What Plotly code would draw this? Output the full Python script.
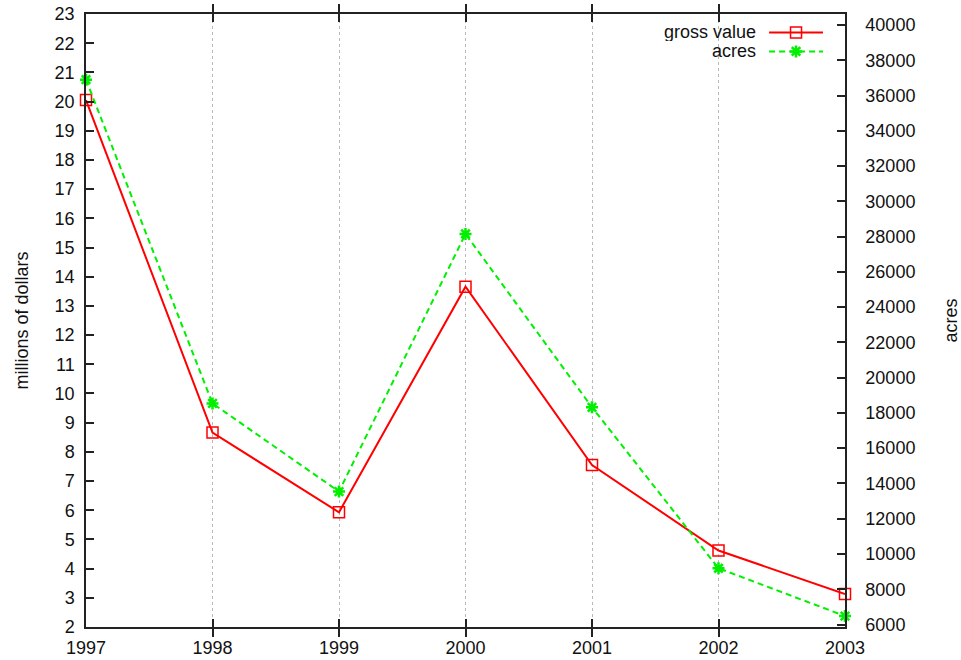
import plotly.graph_objects as go

# Yearly series
years = [1997, 1998, 1999, 2000, 2001, 2002, 2003]
gross_value = [20.05, 8.66, 5.93, 13.66, 7.55, 4.62, 3.13]   # millions of dollars
acres = [36900, 18540, 13540, 28150, 18320, 9190, 6480]

left_ticks = list(range(2, 24))
right_ticks = list(range(6000, 40001, 2000))

RED = "#ff0000"
GREEN = "#00f000"
AXIS = "#222222"
FONT = "Liberation Sans, Arial, sans-serif"

fig = go.Figure()

fig.add_trace(go.Scatter(
    x=years, y=gross_value, name="gross value", mode="lines+markers",
    line=dict(color=RED, width=2),
    marker=dict(symbol="square-open", size=11, color=RED, line=dict(width=1.5, color=RED)),
    cliponaxis=False, yaxis="y",
))
fig.add_trace(go.Scatter(
    x=years, y=acres, name="acres", mode="lines+markers",
    line=dict(color=GREEN, width=2, dash="6px,4px"),
    marker=dict(symbol="asterisk-open", size=10, color=GREEN, line=dict(width=2.5, color=GREEN)),
    cliponaxis=False, yaxis="y2",
))

# Key in the top-right corner: label on the left, sample line with marker on the right
key_rows = [("gross value", 0.970, RED, "solid", "square-open", 11, 1.5),
            ("acres", 0.939, GREEN, "6px,4px", "asterisk-open", 10, 2.5)]
for label, ky, col, dash, sym, ms, mw in key_rows:
    fig.add_trace(go.Scatter(
        x=[0.900, 0.9355, 0.971], y=[ky, ky, ky], xaxis="x3", yaxis="y3",
        mode="lines", line=dict(color=col, width=2, dash=dash),
        showlegend=False, hoverinfo="skip", cliponaxis=False,
    ))
    fig.add_trace(go.Scatter(
        x=[0.9355], y=[ky], xaxis="x3", yaxis="y3", mode="markers",
        marker=dict(symbol=sym, size=ms, color=col, line=dict(width=mw, color=col)),
        showlegend=False, hoverinfo="skip", cliponaxis=False,
    ))
    fig.add_annotation(x=0.884, y=ky, xref="paper", yref="paper", text=label,
                       showarrow=False, xanchor="right", yanchor="middle",
                       height=18, valign="middle", borderpad=0,
                       font=dict(size=18, color="#111111", family=FONT))

fig.update_layout(
    width=961, height=660,
    margin=dict(l=86, r=116, t=14, b=33, autoexpand=False),
    paper_bgcolor="white", plot_bgcolor="white",
    font=dict(family=FONT, size=18, color="#111111"),
    showlegend=False,
    xaxis=dict(
        range=[1997, 2003], tickmode="array", tickvals=years,
        ticktext=[str(y) for y in years], automargin=False,
        showgrid=True, gridcolor="#b8b8b8", griddash="dot", gridwidth=1,
        zeroline=False, showline=True, linecolor=AXIS, linewidth=1.5,
        mirror="allticks", ticks="inside", ticklen=8, tickcolor=AXIS, tickwidth=1.5,
        ticklabelstandoff=4,
    ),
    yaxis=dict(
        range=[2, 23], tickmode="array", tickvals=left_ticks,
        ticktext=[str(v) for v in left_ticks], automargin=False,
        showgrid=False, zeroline=False, showline=True, linecolor=AXIS, linewidth=1.5,
        ticks="inside", ticklen=8, tickcolor=AXIS, tickwidth=1.5,
        ticklabelstandoff=6,
        title=dict(text="millions of dollars", standoff=21, font=dict(size=18)),
    ),
    yaxis2=dict(
        range=[5858, 40624], tickmode="array", tickvals=right_ticks,
        ticktext=[str(v) for v in right_ticks], automargin=False,
        overlaying="y", side="right",
        showgrid=False, zeroline=False, showline=True, linecolor=AXIS, linewidth=1.5,
        ticks="inside", ticklen=8, tickcolor=AXIS, tickwidth=1.5,
        ticklabelstandoff=15,
        title=dict(text="acres", standoff=34, font=dict(size=18)),
    ),
    xaxis3=dict(overlaying="x", range=[0, 1], visible=False, anchor="y3"),
    yaxis3=dict(overlaying="y", range=[0, 1], visible=False, anchor="x3"),
)

fig.write_html("out.html")
